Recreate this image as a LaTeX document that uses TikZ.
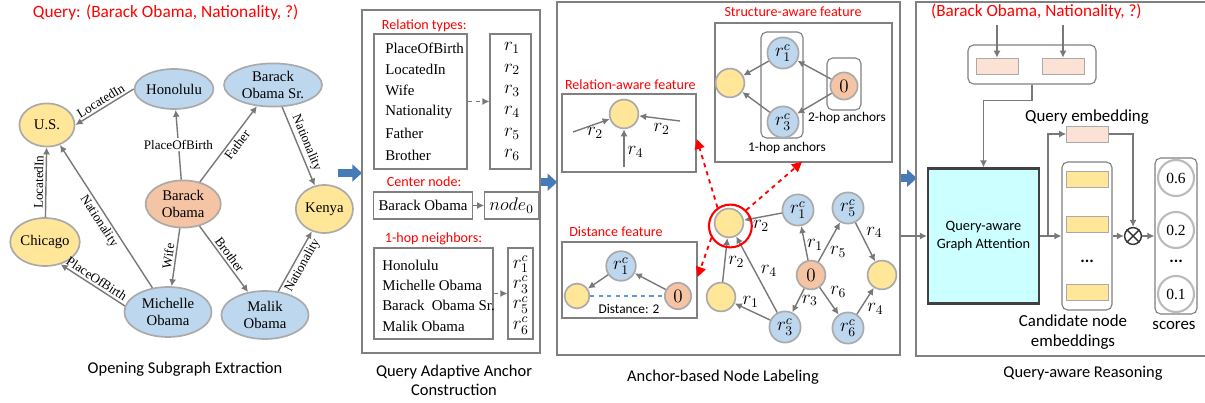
\RequirePackage{fix-cm}
\documentclass[tikz,border=0pt]{standalone}
\usepackage{fontspec}
\setmainfont{Liberation Serif}
\newfontfamily\carlito{Carlito}
\usetikzlibrary{arrows.meta,shapes.geometric,positioning}

\definecolor{entblue}{RGB}{189,215,238}
\definecolor{entyellow}{RGB}{255,230,153}
\definecolor{entorange}{RGB}{244,196,164}
\definecolor{rimgray}{RGB}{170,170,170}
\definecolor{linkgray}{RGB}{120,120,120}
\definecolor{framegray}{RGB}{128,128,128}
\definecolor{stageblue}{RGB}{70,123,184}
\definecolor{embpink}{RGB}{251,226,212}
\definecolor{attncyan}{RGB}{204,255,255}
\definecolor{distblue}{RGB}{91,155,213}

\tikzset{
  ent/.style={ellipse, draw=rimgray, line width=1.2pt, inner sep=0pt, align=center,
    font=\fontsize{10.5}{12}\selectfont},
  rel/.style={font=\fontsize{9.3}{10}\selectfont, inner sep=1.5pt},
  link/.style={->, draw=linkgray, line width=1pt},
  ball/.style={circle, draw=rimgray, line width=1.2pt, inner sep=0pt, minimum size=0.72cm,
    font=\fontsize{13.5}{14}\selectfont},
  lab/.style={font=\fontsize{13.5}{15}\selectfont, inner sep=1pt},
  panel/.style={draw=framegray, line width=1.1pt},
  listbox/.style={draw=framegray, line width=0.8pt},
  item/.style={anchor=west, inner sep=0pt, font=\fontsize{10.6}{12}\selectfont},
  redtag/.style={text=red, font=\fontsize{10}{12}\carlito},
  note/.style={font=\fontsize{9.5}{11}\carlito},
  stage/.style={font=\fontsize{11.7}{13.5}\carlito, align=center},
  hop/.style={stageblue, line width=0.2cm, -{Triangle[length=0.24cm,width=0.42cm]}},
  pick/.style={red, dashed, line width=1.3pt, -{Triangle[length=0.25cm,width=0.25cm]}},
  emb/.style={draw=rimgray, fill=embpink, minimum width=1.05cm, minimum height=0.4cm},
  cand/.style={draw=rimgray, fill=entyellow, minimum width=1.05cm, minimum height=0.4cm},
  score/.style={circle, draw=rimgray!80, line width=1.5pt, fill=white, minimum size=0.9cm,
    inner sep=0pt, font=\fontsize{11}{12}\selectfont},
  tray/.style={draw=framegray, line width=0.8pt, rounded corners=4pt}
}

\begin{document}
\begin{tikzpicture}[>={Latex[length=5pt,width=5pt]}]
\useasboundingbox (0,0) rectangle (30.125,10.075);

% ---- opening subgraph
\node[text=red, font=\fontsize{12.3}{14}\carlito] (query) at (4.14,9.75) {Query: (Barack Obama, Nationality, ?)};
\node[ent, fill=entblue, minimum width=1.95cm, minimum height=1cm] (hon) at (4.35,7.85) {Honolulu};
\node[ent, fill=entblue, minimum width=2.45cm, minimum height=1.08cm] (sr) at (6.825,7.95) {Barack\\Obama Sr.};
\node[ent, fill=entyellow, minimum width=1.38cm, minimum height=1.08cm] (us) at (1.175,6.95) {U.S.};
\node[ent, fill=entorange, minimum width=1.88cm, minimum height=1.18cm] (obama) at (4.58,4.975) {Barack\\Obama};
\node[ent, fill=entyellow, minimum width=1.43cm, minimum height=1.2cm] (kenya) at (8.11,4.85) {Kenya};
\node[ent, fill=entyellow, minimum width=1.7cm, minimum height=1.2cm] (chi) at (1.125,4.025) {Chicago};
\node[ent, fill=entblue, minimum width=2.18cm, minimum height=1.25cm] (mich) at (4.2,2.275) {Michelle\\Obama};
\node[ent, fill=entblue, minimum width=2.18cm, minimum height=1.2cm] (malik) at (6.625,2.2) {Malik\\Obama};

\draw[link] (hon.west) -- node[rel, sloped, above] {LocatedIn} (us.east);
\draw[link] (obama) -- node[rel, fill=white] {PlaceOfBirth} (hon);
\draw[link] (obama) -- node[rel, sloped, below, pos=0.55] {Father} (sr);
\draw[link] (sr) -- node[rel, sloped, above] {Nationality} (kenya);
\draw[link] (chi) -- node[rel, sloped, above] {LocatedIn} (us);
\draw[link] (mich) -- node[rel, sloped, below] {Nationality} (us);
\draw[link] (mich.172) -- node[rel, sloped, above] {PlaceOfBirth} (chi.-55);
\draw[link] (obama) -- node[rel, sloped, above] {Wife} (mich);
\draw[link] (obama) -- node[rel, sloped, above] {Brother} (malik);
\draw[link] (malik) -- node[rel, sloped, below] {Nationality} (kenya);
\node[stage] (cap1) at (4.625,0.85) {Opening Subgraph Extraction};

% stage arrows
\coordinate (h1a) at (8.45,5.75);  \coordinate (h1b) at (9.05,5.75);
\coordinate (h2a) at (13.52,5.52); \coordinate (h2b) at (13.93,5.52);
\coordinate (h3a) at (22.5,5.62);  \coordinate (h3b) at (22.92,5.62);
\draw[hop] (h1a) -- (h1b);
\draw[hop] (h2a) -- (h2b);
\draw[hop] (h3a) -- (h3b);

% ---- query adaptive anchors
\node[panel, minimum width=4.45cm, minimum height=8.575cm] (p2) at (11.275,5.5375) {};
\node[redtag, anchor=west] (tagrel) at (9.425,9.425) {Relation types:};
\node[listbox, minimum width=2.325cm, minimum height=3.375cm] (rtypes) at (10.5125,7.5375) {};
\node[listbox, minimum width=1.025cm, minimum height=3.375cm] (rids) at (12.7625,7.5375) {};
\foreach \rname [count=\i] in {PlaceOfBirth,LocatedIn,Wife,Nationality,Father,Brother} {
  \node[item] (rt\i) at (9.625,9.41-0.535*\i) {\rname};
  \node[lab] (rid\i) at (12.8,9.41-0.535*\i) {$r_\i$};
}
\draw[->, dashed, draw=linkgray, line width=1pt] (rtypes.east) -- (rids.west);

\node[redtag, anchor=west] (tagctr) at (9.55,5.525) {Center node:};
\node[listbox, minimum width=2.45cm, minimum height=0.675cm, font=\fontsize{10.6}{12}\selectfont] (ctr) at (10.575,4.9375) {Barack Obama};
\node[listbox, minimum width=1.275cm, minimum height=0.675cm, font=\fontsize{13}{14}\selectfont] (node0) at (12.7875,4.9375) {$node_0$};
\draw[->, dashed, draw=linkgray, line width=1pt] (ctr) -- (node0);

\node[redtag, anchor=west] (tagnb) at (9.5,4.1) {1-hop neighbors:};
\node[listbox, minimum width=2.975cm, minimum height=2.275cm] (nbrs) at (10.8375,2.7375) {};
\node[listbox, minimum width=0.625cm, minimum height=2.275cm] (nbids) at (13.0125,2.7375) {};
\foreach \nname/\k [count=\i] in {Honolulu/1,Michelle Obama/3,Barack~~Obama Sr./5,Malik Obama/6} {
  \node[item] (nb\i) at (9.55,3.96-0.51*\i) {\nname};
  \node[lab] (nbid\i) at (13.02,3.98-0.51*\i) {$r_\k^c$};
}
\draw[->, dashed, draw=linkgray, line width=1pt] (nbrs) -- (nbids);
\node[stage] (cap2) at (11.35,0.575) {Query Adaptive Anchor\\Construction};

% ---- anchor-based labeling
\node[panel, minimum width=8.575cm, minimum height=8.825cm] (p3) at (18.2125,5.6125) {};

% relation-aware feature
\node[redtag] (tagra) at (15.76,7.95) {Relation-aware feature};
\node[listbox, minimum width=3.35cm, minimum height=1.95cm] (ra) at (15.725,6.75) {};
\node[ball, fill=entyellow] (raX) at (15.6,7.225) {};
\coordinate (ra1) at (14.325,6.775);
\coordinate (ra2) at (17.0,7.05);
\coordinate (ra3) at (15.6,5.9);
\draw[link] (ra1) -- node[lab, pos=0.6, below=1pt] {$r_2$} (raX);
\draw[link] (ra2) -- node[lab, pos=0.45, below=2pt] {$r_2$} (raX);
\draw[link] (ra3) -- node[lab, pos=0.4, right=1pt] {$r_4$} (raX);

% structure-aware feature
\node[redtag] (tagsa) at (19.825,9.775) {Structure-aware feature};
\node[listbox, minimum width=4.425cm, minimum height=3.475cm] (sa) at (20.0875,7.7625) {};
\node[tray, minimum width=1.05cm, minimum height=2.65cm] (hop1) at (19.55,7.95) {};
\node[tray, minimum width=0.85cm, minimum height=1.3cm] (hop2) at (21.1,7.975) {};
\node[ball, fill=entyellow] (saX) at (18.25,8.0) {};
\node[ball, fill=entblue, minimum size=0.78cm] (saR1) at (19.575,8.75) {$r_1^c$};
\node[ball, fill=entblue, minimum size=0.78cm] (saR3) at (19.575,7.025) {$r_3^c$};
\node[ball, fill=entorange, minimum size=0.68cm] (sa0) at (21.1,7.925) {$0$};
\draw[link] (sa0) -- (saR1);
\draw[link] (sa0) -- (saR3);
\draw[link] (saR1) -- (saX);
\draw[link] (saR3) -- (saX);
\node[note] (hop2txt) at (21.175,7.13) {2-hop anchors};
\node[note] (hop1txt) at (19.675,6.38) {1-hop anchors};

% distance feature
\node[redtag] (tagdf) at (15.4,4.275) {Distance feature};
\node[listbox, minimum width=3.375cm, minimum height=1.9cm] (df) at (15.7375,3.075) {};
\node[ball, fill=entyellow, minimum size=0.62cm] (dfX) at (14.425,2.675) {};
\node[ball, fill=entblue, minimum size=0.74cm] (dfR1) at (15.525,3.425) {$r_1^c$};
\node[ball, fill=entorange, minimum size=0.66cm] (df0) at (16.95,2.675) {$0$};
\draw[link] (df0) -- (dfR1);
\draw[link] (dfR1) -- (dfX);
\draw[distblue, dashed, line width=1pt] (dfX) -- (df0);
\node[note] (dist) at (15.725,2.36) {Distance: 2};

% labeled subgraph
\node[ball, fill=entyellow] (gX) at (18.225,4.5) {};
\node[ball, fill=entyellow] (gY) at (18.025,2.65) {};
\node[ball, fill=entyellow] (gZ) at (22.05,3.2) {};
\node[ball, fill=entorange] (g0) at (20.275,3.2) {$0$};
\node[ball, fill=entblue, minimum size=0.78cm] (g1) at (19.95,4.825) {$r_1^c$};
\node[ball, fill=entblue, minimum size=0.78cm] (g5) at (21.2,4.875) {$r_5^c$};
\node[ball, fill=entblue, minimum size=0.78cm] (g3) at (19.625,1.9) {$r_3^c$};
\node[ball, fill=entblue, minimum size=0.78cm] (g6) at (21.2,1.875) {$r_6^c$};
\draw[link] (g1) -- node[lab, below=1pt, pos=0.55] {$r_2$} (gX);
\draw[link] (g0) -- node[lab, right=0pt, pos=0.45] {$r_1$} (g1);
\draw[link] (g0) -- node[lab, below right=0pt, pos=0.45] {$r_5$} (g5);
\draw[link] (g5) -- node[lab, above right=0pt, pos=0.45] {$r_4$} (gZ);
\draw[link] (g0) -- node[lab, right=1pt, pos=0.5] {$r_3$} (g3);
\draw[link] (g0) -- node[lab, above right=0pt, pos=0.45] {$r_6$} (g6);
\draw[link] (g6) -- node[lab, below right=0pt, pos=0.5] {$r_4$} (gZ);
\draw[link] (g3) -- node[lab, above right=0pt, pos=0.45] {$r_4$} (gX);
\draw[link] (g3) -- node[lab, above=1pt, pos=0.55] {$r_1$} (gY);
\draw[link] (gY) -- node[lab, right=1pt, pos=0.45] {$r_2$} (gX);

% highlighted target and its three features
\node[circle, draw=red, line width=1.5pt, minimum size=1.07cm] (hl) at (18.26,4.425) {};
\coordinate (ratip) at (17.42,6.6);
\coordinate (satip) at (20.05,6.03);
\coordinate (dftip) at (17.44,3.15);
\draw[pick] (hl.125) -- (ratip);
\draw[pick] (hl.45) -- (satip);
\draw[pick] (hl.212) -- (dftip);
\node[stage] (cap3) at (18.075,0.65) {Anchor-based Node Labeling};

% ---- query-aware reasoning
\draw[panel] (30.2,10.025) -| (22.9,1.175) -- (30.2,1.175);
\node[text=red, font=\fontsize{12.2}{14}\carlito] (qtext) at (25.91,9.775) {(Barack Obama, Nationality, ?)};
\node[tray, minimum width=3.2cm, minimum height=0.975cm] (qbox) at (25.8,8.4625) {};
\node[emb] (e1) at (24.925,8.425) {};
\node[emb] (e2) at (26.575,8.425) {};
\draw[link] (e1 |- qtext.south) -- (e1.north);
\draw[link] (e2 |- qtext.south) -- (e2.north);

\node[draw=black!75, line width=1.5pt, fill=attncyan, minimum width=2.775cm, minimum height=3.375cm,
  align=center, font=\fontsize{10.2}{12.5}\carlito] (ga) at (24.5875,4.175) {Query-aware\\Graph Attention};
\draw[link] (qbox.south) -- ++(0,-0.4) -| (ga.north);
\draw[link] (p3.east |- ga.west) -- (ga.west);

\node[font=\fontsize{12}{14}\carlito] (qelab) at (27.175,7.15) {Query embedding};
\node[emb] (qe) at (27.1875,6.725) {};
\node[tray, minimum width=1.25cm, minimum height=3.7cm] (candbox) at (27.175,4.175) {};
\node[cand] (c1) at (27.175,5.6) {};
\node[cand] (c2) at (27.175,4.4625) {};
\node[font=\fontsize{12}{14}\carlito\bfseries] (cdots) at (27.175,3.55) {...};
\node[cand] (c3) at (27.175,2.775) {};
\coordinate (split) at (26.2,4.175);
\draw[link] (ga.east) -- (candbox.west);
\draw[link] (split) |- (qe.west);

\node[circle, draw=black!80, line width=1pt, minimum size=0.42cm, inner sep=0pt] (prod) at (28.325,4.175) {};
\draw[black!80, line width=1pt] (prod.45) -- (prod.225) (prod.135) -- (prod.315);
\draw[link] (qe.east) -| (prod.north);
\draw[link] (candbox.east) -- (prod.west);

\node[tray, minimum width=1.05cm, minimum height=3.9cm] (scores) at (29.4,4.175) {};
\draw[link] (prod.east) -- (scores.west);
\node[score] (s1) at (29.4,5.625) {0.6};
\node[score] (s2) at (29.4,4.325) {0.2};
\node[font=\fontsize{12}{14}\carlito\bfseries] (sdots) at (29.4,3.55) {...};
\node[score] (s3) at (29.4,2.725) {0.1};

\node[font=\fontsize{12}{14.2}\carlito, align=center] (candlab) at (26.825,1.775) {Candidate node\\embeddings};
\node[font=\fontsize{12}{14}\carlito] (scorelab) at (29.35,1.95) {scores};
\node[stage] (cap4) at (27.075,0.75) {Query-aware Reasoning};
\end{tikzpicture}
\end{document}
